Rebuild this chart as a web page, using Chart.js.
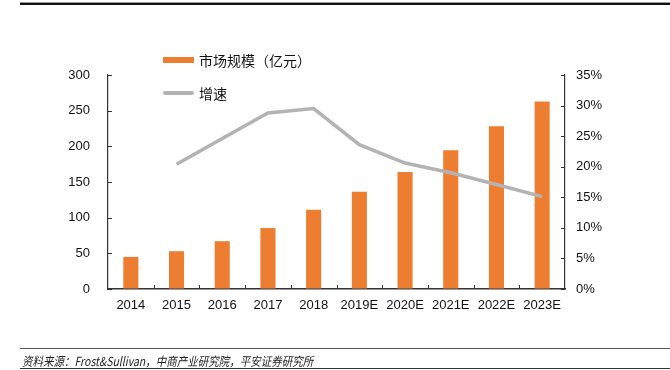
<!DOCTYPE html>
<html>
<head>
<meta charset="utf-8">
<script src="https://cdn.jsdelivr.net/npm/chart.js@4"></script>
<style>
    body { margin: 0; background: #fff; }
    #wrap { position: relative; width: 670px; height: 370px; overflow: hidden; font-family: "Liberation Sans", Arial, "Noto Sans CJK SC", sans-serif; }
    #chart { position: absolute; left: 0; top: 0; }
    .rule { position: absolute; left: 20px; right: 0; }
    #legend { position: absolute; left: 163px; top: 48px; font-family: "Noto Sans CJK SC", sans-serif; font-size: 14px; color: #111; }
    #legend .item { position: absolute; left: 0; white-space: nowrap; height: 24px; line-height: 24px; }
    #legend .swatch { position: absolute; left: 0; width: 31px; }
    #legend .label { position: absolute; left: 36px; top: 0; }
    #source { position: absolute; left: 22px; top: 351px; font-family: "Noto Sans CJK SC", sans-serif; font-size: 12.5px; font-style: italic; color: #222; white-space: nowrap; transform: scaleX(0.84); transform-origin: left top; }
</style>
</head>
<body>
<div id="wrap">
    <canvas id="chart" width="670" height="370"></canvas>
    <div class="rule" style="top:2px;height:1px;background:#999"></div>
    <div class="rule" style="top:3px;height:2px;background:#111"></div>
    <div id="legend"></div>
    <div class="rule" style="top:348px;height:1px;background:#555"></div>
    <div id="source">资料来源：Frost&amp;Sullivan，中商产业研究院，平安证券研究所</div>
    <div class="rule" style="top:368px;height:1px;background:#333"></div>
</div>
<script>
document.addEventListener("DOMContentLoaded", () => {

    // ---- data ----
    const years = ["2014", "2015", "2016", "2017", "2018", "2019E", "2020E", "2021E", "2022E", "2023E"];
    const marketSize = [45, 53, 67, 85.5, 111, 136.5, 164, 194.5, 228, 263];     // 亿元
    const growth = [null, 20.4, 24.6, 28.8, 29.5, 23.6, 20.6, 19.0, 17.1, 15.1]; // %

    const barColor = "#ED7D31";
    const lineColor = "#B3B3B3";
    const axisColor = "#333";

    // inward tick marks
    const innerTicks = {
        id: "innerTicks",
        afterDraw(chart) {
            const ctx = chart.ctx;
            const len = 4;
            ctx.save();
            ctx.strokeStyle = axisColor;
            ctx.lineWidth = 1;
            const yl = chart.scales.y;
            yl.ticks.forEach((t, i) => {
                const py = Math.round(yl.getPixelForTick(i)) + 0.5;
                ctx.beginPath(); ctx.moveTo(yl.right, py); ctx.lineTo(yl.right + len, py); ctx.stroke();
            });
            const yr = chart.scales.y2;
            yr.ticks.forEach((t, i) => {
                const py = Math.round(yr.getPixelForTick(i)) + 0.5;
                ctx.beginPath(); ctx.moveTo(yr.left, py); ctx.lineTo(yr.left - len, py); ctx.stroke();
            });
            const xs = chart.scales.x;
            const n = xs.ticks.length;
            for (let i = 1; i < n; i++) {
                const px = Math.round(xs.left + i * xs.width / n) + 0.5;
                ctx.beginPath(); ctx.moveTo(px, xs.top); ctx.lineTo(px, xs.top - len); ctx.stroke();
            }
            ctx.restore();
        }
    };

    const tickFont = { family: "'Liberation Sans', Arial, sans-serif", size: 13 };

    const chart = new Chart(document.getElementById("chart"), {
        data: {
            labels: years,
            datasets: [
                {
                    type: "line",
                    label: "增速",
                    data: growth,
                    yAxisID: "y2",
                    borderColor: lineColor,
                    borderWidth: 3.5,
                    pointRadius: 0,
                    tension: 0,
                    order: 0
                },
                {
                    type: "bar",
                    label: "市场规模（亿元）",
                    data: marketSize,
                    yAxisID: "y",
                    backgroundColor: barColor,
                    categoryPercentage: 1,
                    barPercentage: 0.33,
                    order: 1
                }
            ]
        },
        options: {
            responsive: false,
            animation: false,
            layout: { padding: { top: 75, left: 0, right: 0, bottom: 0 } },
            plugins: { legend: { display: false }, tooltip: { enabled: false } },
            scales: {
                x: {
                    grid: { display: true, drawOnChartArea: false, drawTicks: false, offset: true },
                    border: { display: true, color: axisColor, width: 1.5 },
                    ticks: { color: "#111", font: tickFont, padding: 9, maxRotation: 0, autoSkip: false },
                    afterFit(s) { s.height = 81; }
                },
                y: {
                    position: "left",
                    min: 0, max: 300,
                    grid: { drawOnChartArea: false, drawTicks: false },
                    border: { display: true, color: axisColor, width: 1.2 },
                    ticks: { stepSize: 50, color: "#111", font: tickFont, padding: 18 },
                    afterFit(s) { s.width = 108; }
                },
                y2: {
                    position: "right",
                    min: 0, max: 35,
                    grid: { drawOnChartArea: false, drawTicks: false },
                    border: { display: true, color: axisColor, width: 1.2 },
                    ticks: { stepSize: 5, color: "#111", font: tickFont, padding: 11, callback: v => v + "%" },
                    afterFit(s) { s.width = 105; }
                }
            }
        },
        plugins: [innerTicks]
    });

    // ---- legend (bar row first, line row second) ----
    const legend = document.getElementById("legend");
    const rows = [chart.data.datasets[1], chart.data.datasets[0]];
    legend.innerHTML = rows.map((ds, i) => {
        const isBar = ds.type === "bar";
        const sw = isBar
            ? `<span class="swatch" style="top:9px;height:6px;background:${ds.backgroundColor}"></span>`
            : `<span class="swatch" style="top:10px;height:3.5px;background:${ds.borderColor};border-radius:2px"></span>`;
        return `<div class="item" style="top:${i * 33}px">${sw}<span class="label">${ds.label}</span></div>`;
    }).join("");
});
</script>
</body>
</html>
